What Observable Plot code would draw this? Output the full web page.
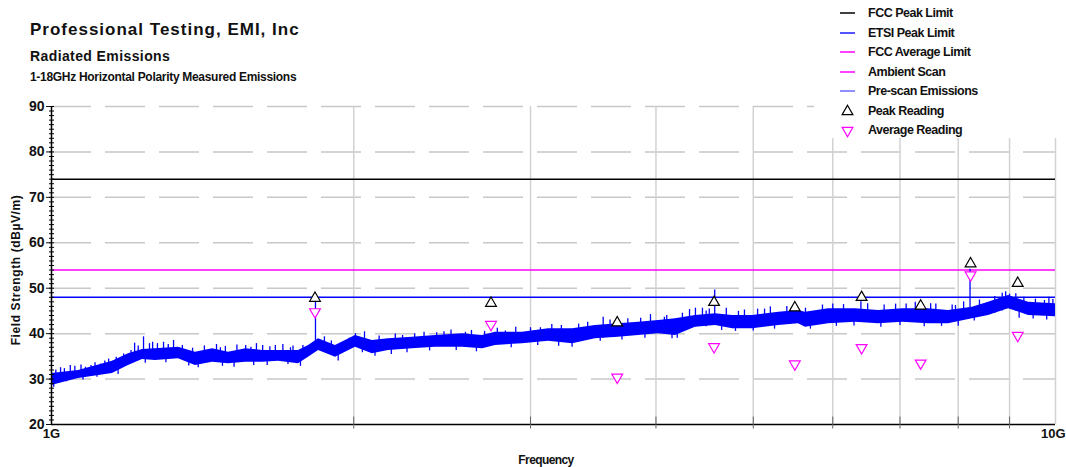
<!DOCTYPE html>
<html>
<head>
<meta charset="utf-8">
<script src="https://cdn.jsdelivr.net/npm/d3@7"></script>
<script src="https://cdn.jsdelivr.net/npm/@observablehq/plot@0.6"></script>
<style>
  body { margin: 0; background: #fff; font-family: "Liberation Sans", Arial, sans-serif; }
  #wrap { position: relative; width: 1066px; height: 467px; overflow: hidden; }
  #chart { position: absolute; left: 0; top: 0; }
  .t { position: absolute; white-space: nowrap; font-weight: bold; color: #111; line-height: 1; }
  #title { left: 30px; top: 21px; font-size: 17px; letter-spacing: 1px; }
  #sub1 { left: 30px; top: 49px; font-size: 14px; letter-spacing: 0.4px; }
  #sub2 { left: 30px; top: 71px; font-size: 12px; letter-spacing: -0.3px; }
  #xlabel { left: 546px; top: 454px; font-size: 12px; letter-spacing: -0.6px; transform: translateX(-50%); }
  #ylabel { left: 16px; top: 270px; font-size: 12px; letter-spacing: 0.6px; transform: translate(-50%, -50%) rotate(-90deg); }
  #legend { position: absolute; left: 814px; top: 0; width: 252px; height: 138px; background: #fff; }
  .row { position: absolute; left: 0; height: 18px; }
  .row svg { position: absolute; left: 24px; top: 0; }
  .row span { position: absolute; left: 54px; top: 2px; font-size: 12.5px; font-weight: bold; letter-spacing: -0.5px; color: #111; white-space: nowrap; }
</style>
</head>
<body>
<div id="wrap">
  <div id="chart"></div>
  <div class="t" id="title">Professional Testing, EMI, Inc</div>
  <div class="t" id="sub1">Radiated Emissions</div>
  <div class="t" id="sub2">1-18GHz Horizontal Polarity Measured Emissions</div>
  <div class="t" id="ylabel">Field Strength (dBµV/m)</div>
  <div class="t" id="xlabel">Frequency</div>
  <div id="legend"></div>
</div>
<script>
// Limit lines (dBµV/m)
const fccPeakLimit = 74;
const etsiPeakLimit = 48;
const fccAverageLimit = 54;

// Pre-scan emissions: envelope of the swept trace (frequency in GHz, low / high level)
const scanFreq = [1.000, 1.064, 1.150, 1.193, 1.232, 1.269, 1.338, 1.391, 1.447, 1.501,
                  1.561, 1.623, 1.683, 1.762, 1.803, 1.845, 1.918, 2.008, 2.087, 2.166,
                  2.288, 2.413, 2.567, 2.688, 2.768, 2.945, 3.126, 3.304, 3.481, 3.669,
                  3.843, 4.023, 4.183, 4.379, 4.585, 4.768, 4.992, 5.301, 5.546, 5.636,
                  5.941, 6.321, 6.664, 7.041, 7.473, 7.823, 8.266, 8.576, 8.979, 9.400, 10.0];
const scanHigh = [31.2, 31.9, 33.9, 35.6, 36.5, 36.7, 37.0, 35.9, 36.7, 35.9,
                  36.7, 36.3, 36.3, 36.3, 37.4, 38.9, 37.4, 39.6, 38.5, 38.9,
                  39.2, 39.6, 40.0, 39.6, 40.3, 40.3, 41.1, 41.1, 41.8, 42.2,
                  42.5, 42.9, 43.3, 44.0, 44.4, 44.0, 44.0, 44.7, 45.1, 44.7,
                  45.5, 45.5, 45.1, 45.5, 45.5, 45.1, 45.8, 46.9, 48.4, 46.9, 46.6];
const scanLow  = [28.6, 30.1, 31.2, 33.0, 34.3, 34.1, 34.5, 33.0, 33.7, 33.4,
                  33.7, 33.7, 33.9, 33.4, 34.8, 36.3, 34.8, 37.0, 35.6, 36.3,
                  36.7, 37.0, 37.0, 36.7, 37.4, 37.8, 38.3, 37.8, 38.9, 39.2,
                  39.6, 40.0, 39.6, 41.4, 41.8, 41.1, 41.1, 41.8, 42.2, 41.4,
                  42.2, 42.5, 42.2, 42.5, 42.2, 42.2, 43.3, 44.0, 45.5, 44.0, 43.7];

// Narrow upward spikes on the trace: frequency (GHz), base level, top level
const spikeFreq = [1.010, 1.021, 1.030, 1.044, 1.055, 1.070, 1.081, 1.095, 1.105, 1.119,
                   1.130, 1.140, 1.160, 1.172, 1.180, 1.200, 1.210, 1.220, 1.235, 1.252,
                   1.261, 1.275, 1.293, 1.307, 1.323, 1.350, 1.382, 1.420, 1.460, 1.473,
                   1.490, 1.530, 1.561, 1.580, 1.600, 1.623, 1.650, 1.671, 1.700, 1.730,
                   1.740, 1.780, 1.832, 1.870, 1.900, 1.950, 1.980, 2.008, 2.050, 2.120,
                   2.200, 2.237, 2.300, 2.350, 2.419, 2.460, 2.500, 2.584, 2.620, 2.700,
                   2.780, 2.832, 2.900, 3.000, 3.069, 3.150, 3.220, 3.350, 3.420, 3.544,
                   3.600, 3.750, 3.862, 3.950, 4.078, 4.100, 4.250, 4.320, 4.379, 4.450,
                   4.488, 4.520, 4.577, 4.700, 4.833, 4.900, 5.050, 5.131, 5.200, 5.400,
                   5.636, 5.860, 6.000, 6.150, 6.400, 6.500, 6.750, 6.930, 7.100, 7.250,
                   7.510, 7.600, 7.890, 7.950, 8.100, 8.220, 8.400, 8.700, 8.850, 8.920,
                   9.000, 9.130, 9.300, 9.550, 9.750, 9.850, 9.940];
const spikeBase = [29.5, 30.0, 30.0, 30.5, 30.5, 31.0, 31.0, 31.0, 31.5, 31.5,
                   32.0, 32.0, 32.5, 32.5, 33.0, 34.0, 34.0, 34.5, 35.0, 35.0,
                   35.0, 35.0, 35.0, 35.0, 35.0, 35.0, 34.0, 34.0, 34.0, 34.0,
                   34.0, 34.0, 34.0, 34.0, 34.0, 34.0, 34.0, 34.5, 34.5, 34.5,
                   34.5, 35.0, 36.5, 37.0, 36.0, 36.0, 37.0, 37.5, 37.5, 36.5,
                   37.0, 37.0, 37.5, 37.5, 37.5, 37.5, 37.5, 38.0, 38.0, 38.0,
                   38.0, 38.0, 38.5, 38.5, 38.5, 39.0, 39.0, 39.0, 39.5, 39.0,
                   40.0, 40.0, 40.0, 40.5, 40.5, 40.5, 41.0, 41.5, 41.5, 42.0,
                   41.5, 42.0, 42.0, 42.0, 42.0, 42.0, 42.0, 42.0, 42.5, 42.5,
                   42.0, 42.5, 43.0, 43.0, 43.0, 43.0, 43.0, 43.0, 43.0, 43.0,
                   43.0, 43.0, 43.0, 43.0, 43.5, 43.5, 44.0, 44.5, 45.0, 45.5,
                   45.5, 45.0, 45.0, 44.5, 44.0, 44.0, 44.0];
const spikeTop  = [32.0, 32.5, 32.3, 33.0, 32.8, 33.1, 32.6, 33.0, 33.6, 33.3,
                   34.0, 34.4, 34.8, 34.6, 35.5, 36.3, 37.9, 37.3, 39.3, 37.8,
                   38.1, 37.8, 38.1, 37.6, 38.5, 37.4, 36.8, 37.3, 37.6, 36.9,
                   37.2, 37.5, 37.4, 37.0, 37.8, 37.4, 37.1, 37.4, 37.6, 36.9,
                   37.3, 37.4, 47.8, 39.3, 38.4, 38.0, 39.0, 40.0, 40.4, 39.5,
                   39.9, 39.6, 40.0, 40.3, 40.2, 40.4, 40.8, 40.3, 40.7, 40.5,
                   41.2, 40.6, 41.4, 41.3, 41.3, 42.0, 41.8, 42.1, 42.5, 43.6,
                   43.0, 43.3, 43.4, 44.2, 43.6, 44.0, 44.5, 45.3, 45.6, 45.6,
                   45.0, 45.4, 49.6, 45.6, 44.9, 45.2, 45.4, 45.4, 45.9, 46.0,
                   45.6, 46.3, 46.5, 46.4, 47.0, 46.6, 46.3, 46.5, 46.5, 46.9,
                   46.6, 46.5, 46.3, 46.2, 47.0, 54.2, 47.4, 48.2, 48.9, 49.2,
                   48.7, 48.8, 48.0, 47.6, 47.3, 48.0, 47.5];

// Downward excursions below the trace: frequency (GHz), upper level, lowest level
const dipFreq = [1.005, 1.035, 1.075, 1.110, 1.165, 1.240, 1.300, 1.370, 1.400, 1.480,
                 1.520, 1.590, 1.640, 1.720, 1.770, 1.930, 2.040, 2.100, 2.180, 2.260,
                 2.380, 2.530, 2.650, 2.870, 3.050, 3.200, 3.300, 3.520, 3.700, 3.900,
                 4.150, 4.200, 4.650, 4.800, 5.000, 5.250, 5.700, 6.050, 6.300, 6.700,
                 7.000, 7.400, 7.700, 8.000, 8.300, 9.200, 9.500, 9.800];
const dipHigh = [29.5, 30.5, 31.0, 31.5, 32.5, 35.0, 35.0, 34.5, 34.0, 34.0,
                 34.0, 34.5, 34.5, 34.5, 34.0, 35.5, 37.0, 36.5, 36.5, 37.0,
                 37.5, 37.5, 37.5, 38.0, 38.5, 38.5, 38.5, 39.5, 40.0, 40.5,
                 40.5, 40.5, 42.0, 42.0, 42.0, 42.5, 42.5, 43.0, 43.0, 43.0,
                 43.0, 43.0, 43.0, 43.0, 44.0, 45.0, 44.5, 44.5];
const dipLow  = [28.2, 29.4, 29.8, 30.4, 31.0, 33.5, 33.6, 32.9, 32.5, 32.8,
                 32.6, 33.0, 33.0, 33.2, 32.8, 34.0, 35.8, 35.0, 35.4, 35.8,
                 36.2, 36.3, 36.0, 36.9, 37.4, 37.2, 37.0, 38.3, 38.6, 39.0,
                 38.9, 39.0, 40.7, 40.5, 40.6, 41.0, 41.0, 41.6, 41.7, 41.4,
                 41.8, 41.5, 41.6, 41.6, 42.8, 43.4, 43.2, 43.0];

// Final measurements (GHz, dBµV/m)
const readingFreq = [1.83, 2.74, 3.66, 4.57, 5.50, 6.41, 7.34, 8.23, 9.17];
const peakReading = [47.8, 46.7, 42.4, 46.9, 45.7, 48.0, 46.1, 55.4, 51.1];
const averageReading = [44.8, 42.0, 30.4, 37.1, 33.3, 36.9, 33.5, 52.9, 39.6];

// Axis ticks
const yMajor = [20, 30, 40, 50, 60, 70, 80, 90];
const yGrid = [30, 40, 50, 60, 70, 80, 90];
const yMinor = d3.range(20, 91, 1);
const xGrid = [2, 3, 4, 5, 6, 7, 8, 9, 10];
const xMinor = [2, 3, 4, 5, 6, 7, 8, 9];
const xLabelStart = [1];
const xLabelEnd = [10];

// Legend entries
const legendLabels = ["FCC Peak Limit", "ETSI Peak Limit", "FCC Average Limit", "Ambient Scan",
                      "Pre-scan Emissions", "Peak Reading", "Average Reading"];
const legendColors = ["#000000", "#1a1aff", "#ff00ff", "#ff00ff", "#6a6aff", "#000000", "#ff00ff"];
const legendKinds = ["line", "line", "line", "line", "line", "up", "down"];

const scan = scanFreq.map((f, i) => ({f, lo: scanLow[i], hi: scanHigh[i]}));
const spikes = spikeFreq.map((f, i) => ({f, base: spikeBase[i], top: spikeTop[i]}));
const dips = dipFreq.map((f, i) => ({f, hi: dipHigh[i], lo: dipLow[i]}));
const readings = readingFreq.map((f, i) => ({f, peak: peakReading[i], avg: averageReading[i]}));

// short tick glyphs used as dot symbols
const hTick = {draw(ctx, size) { const r = Math.sqrt(size / Math.PI); ctx.moveTo(-r, 0); ctx.lineTo(r, 0); }};
const vTick = {draw(ctx, size) { const r = Math.sqrt(size / Math.PI); ctx.moveTo(0, -2 * r); ctx.lineTo(0, r); }};

const blue = "#0000ff";
const magenta = "#ff00ff";
const fmtG = d => d + "G";

const chart = Plot.plot({
  width: 1066,
  height: 467,
  marginLeft: 51,
  marginRight: 11,
  marginTop: 106,
  marginBottom: 43,
  style: {fontFamily: "'Liberation Sans', Arial, sans-serif", fontWeight: "bold", fontSize: "13px", color: "#111", background: "#fff"},
  x: {type: "log", domain: [1, 10], axis: null},
  y: {domain: [20, 90], axis: null},
  marks: [
    Plot.ruleY(yGrid, {stroke: "#c8c8c8", strokeWidth: 1.5, strokeDasharray: "40,14"}),
    Plot.ruleX(xGrid, {stroke: "#d2d2d2", strokeWidth: 1.5}),
    Plot.ruleY([fccPeakLimit], {stroke: "#000", strokeWidth: 1.5}),
    Plot.ruleY([fccAverageLimit], {stroke: magenta, strokeWidth: 1.5}),
    Plot.ruleY([etsiPeakLimit], {stroke: blue, strokeWidth: 1.5}),
    Plot.areaY(scan, {x: "f", y1: "lo", y2: "hi", fill: blue}),
    Plot.ruleX(spikes, {x: "f", y1: "base", y2: "top", stroke: blue, strokeWidth: 1.3}),
    Plot.ruleX(dips, {x: "f", y1: "hi", y2: "lo", stroke: blue, strokeWidth: 1.3}),
    Plot.dot(readings, {x: "f", y: "avg", symbol: "triangle", rotate: 180, r: 4, stroke: magenta, fill: "#fff", strokeWidth: 1.2}),
    Plot.dot(readings, {x: "f", y: "peak", symbol: "triangle", r: 4, stroke: "#000", fill: "#fff", strokeWidth: 1.2}),
    Plot.ruleX([1], {stroke: "#000", strokeWidth: 1.5}),
    Plot.ruleY([20], {stroke: "#000", strokeWidth: 1.5}),
    Plot.dot(yMinor, {y: d => d, frameAnchor: "left", symbol: hTick, r: 2.5, stroke: "#000", strokeWidth: 1}),
    Plot.dot(xMinor, {x: d => d, frameAnchor: "bottom", symbol: vTick, r: 4, stroke: "#666", strokeWidth: 1}),
    Plot.axisY({ticks: yMajor, tickSize: 5, tickPadding: 2, label: null, fontSize: 14, fontWeight: "bold", letterSpacing: "-1px"}),
    Plot.axisX({ticks: xLabelStart, tickSize: 0, tickPadding: 4, label: null, tickFormat: fmtG, fontSize: 13, fontWeight: "bold", letterSpacing: "-1px"}),
    Plot.axisX({ticks: xLabelEnd, tickSize: 0, tickPadding: 4, label: null, tickFormat: fmtG, fontSize: 13, fontWeight: "bold", letterSpacing: "-1px", textAnchor: "end", dx: 10})
  ]
});
document.getElementById("chart").appendChild(chart);

// Legend
const legend = d3.select("#legend");
legendLabels.forEach((label, i) => {
  const row = legend.append("div").attr("class", "row").style("top", (4 + i * 19.5) + "px").style("width", "252px");
  const svg = row.append("svg").attr("width", 20).attr("height", 18);
  if (legendKinds[i] === "line") {
    svg.append("line").attr("x1", 2).attr("x2", 17).attr("y1", 9).attr("y2", 9)
      .attr("stroke", legendColors[i]).attr("stroke-width", 1.5);
  } else {
    const sym = d3.symbol(d3.symbolTriangle, 50)();
    svg.append("path").attr("d", sym)
      .attr("transform", `translate(9.5,9.5) rotate(${legendKinds[i] === "down" ? 180 : 0})`)
      .attr("fill", "#fff").attr("stroke", legendColors[i]).attr("stroke-width", 1.2);
  }
  row.append("span").text(label);
});
</script>
</body>
</html>
